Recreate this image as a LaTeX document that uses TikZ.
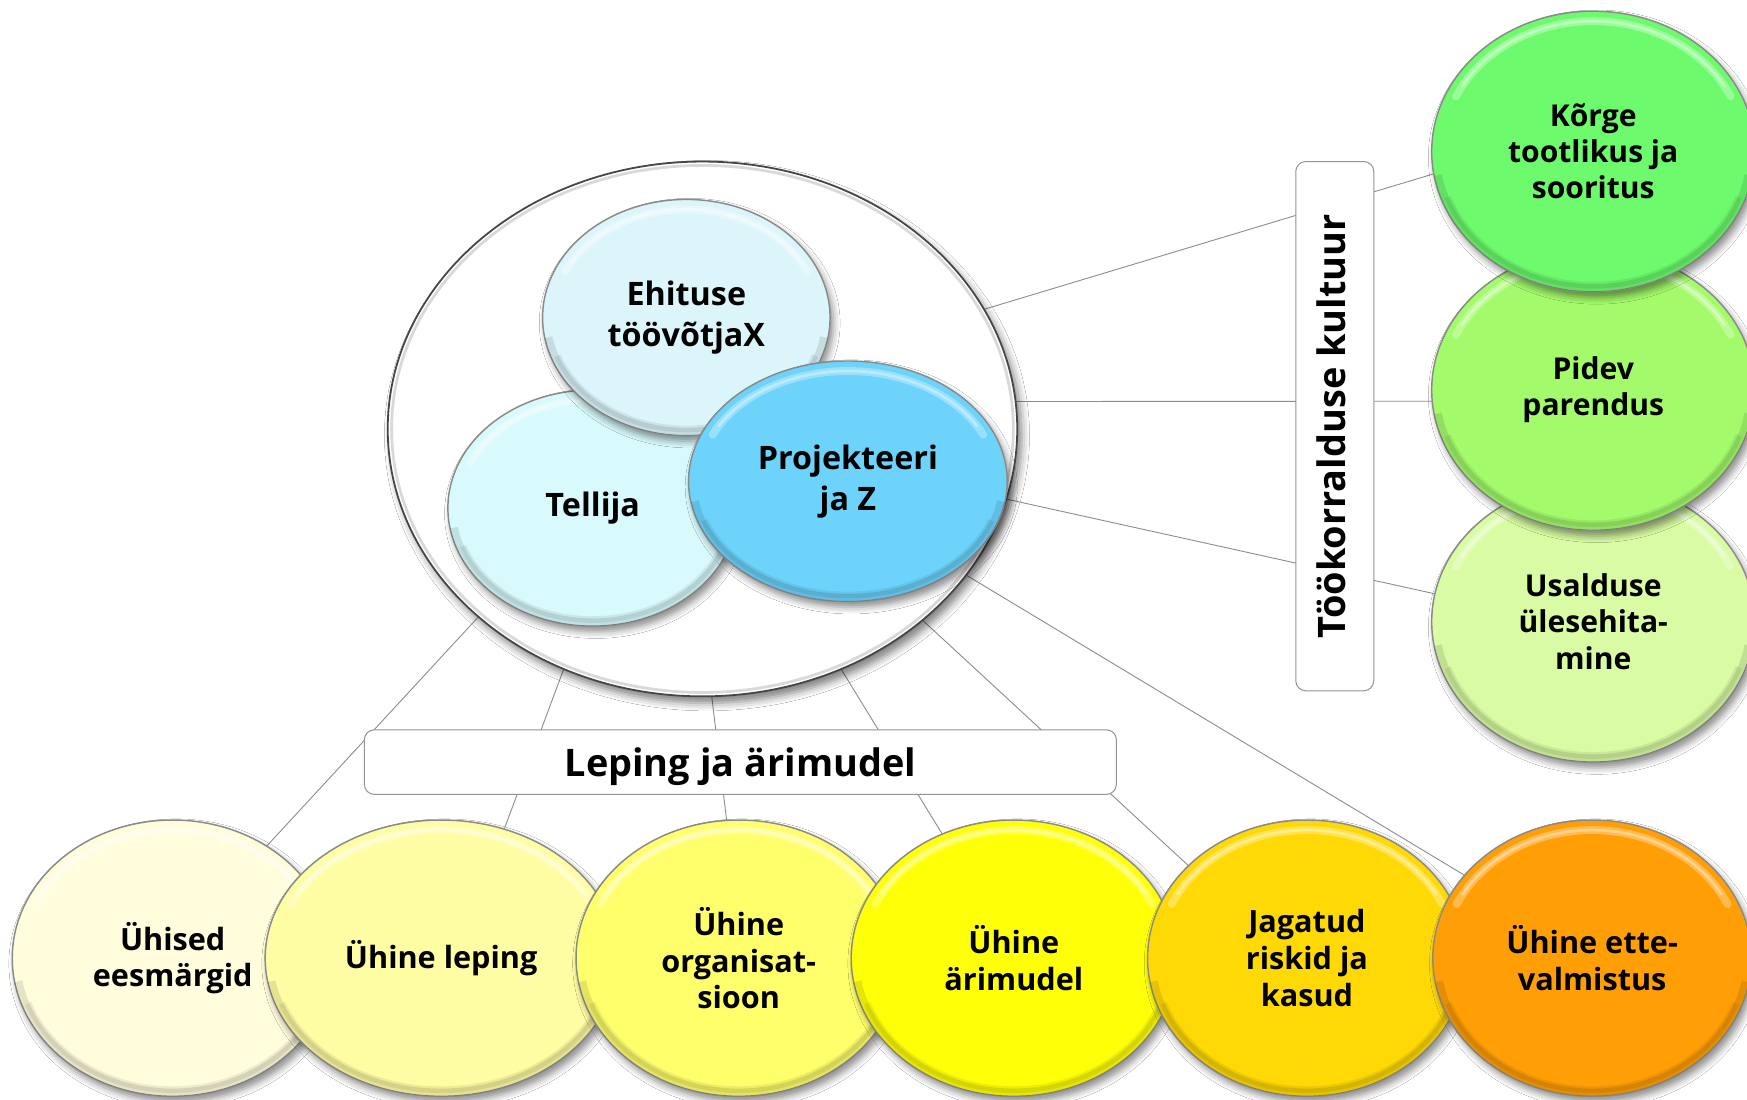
\documentclass[tikz,border=0pt]{standalone}
\usepackage{fontspec}
\setmainfont{Open Sans}
\usetikzlibrary{shapes.geometric,shadows.blur}

\definecolor{ehit}{HTML}{DCF5FB}
\definecolor{tell}{HTML}{D8FAFC}
\definecolor{proj}{HTML}{6DD3FB}
\definecolor{korge}{HTML}{6DFB6D}
\definecolor{pidev}{HTML}{A3FA6B}
\definecolor{usald}{HTML}{D8FBA3}
\definecolor{bA}{HTML}{FFFDDB}
\definecolor{bB}{HTML}{FFFDA3}
\definecolor{bC}{HTML}{FFFE6B}
\definecolor{bD}{HTML}{FFFF08}
\definecolor{bE}{HTML}{FFD905}
\definecolor{bF}{HTML}{FF9F05}
\definecolor{rim}{HTML}{8A8A8A}
\definecolor{linkgray}{HTML}{8C8C8C}

\pgfdeclarelayer{links}
\pgfsetlayers{links,main}

% style, name, x, y, x radius, y radius, fill colour, text
\newcommand\bubble[8]{%
  \node[#1, fill=#7, minimum width={2*#5}, minimum height={2*#6}] (#2) at (#3,#4) {#8};
  \begin{scope}
    \clip (#3,#4) ellipse [x radius=#5, y radius=#6];
    % darker bevel along the lower edge
    \draw[black, opacity=.10, line width=14pt]
      (#3,#4) ++(10:{#5} and {#6}) arc[start angle=10, end angle=170, x radius=#5, y radius=#6];
    \draw[black, opacity=.07, line width=6pt]
      (#3,#4) ++(20:{#5-6} and {#6-6}) arc[start angle=20, end angle=160, x radius=#5-6, y radius=#6-6];
    % soft light rim along the upper edge
    \draw[white, opacity=.30, line width=7pt, line cap=round]
      (#3,#4) ++(205:{#5-9} and {#6-9}) arc[start angle=205, end angle=335, x radius=#5-9, y radius=#6-9];
    \draw[white, opacity=.35, line width=2.5pt, line cap=round]
      (#3,#4) ++(210:{#5-9} and {#6-9}) arc[start angle=210, end angle=330, x radius=#5-9, y radius=#6-9];
  \end{scope}}

\begin{document}
\begin{tikzpicture}[x=1pt,y=-1pt,
  link/.style={draw=linkgray, line width=0.8pt},
  bubble/.style={ellipse, draw=rim, line width=1.3pt, inner sep=0pt, align=center,
    font=\bfseries\fontsize{27.5}{33}\selectfont,
    blur shadow={shadow xshift=3pt, shadow yshift=-5pt, shadow blur radius=6pt, shadow opacity=45}},
  core/.style={bubble, font=\bfseries\fontsize{29}{37}\selectfont},
  side/.style={bubble, font=\bfseries\fontsize{27}{32.5}\selectfont},
  capbox/.style={rectangle, rounded corners=9pt, draw=gray!85, fill=white, line width=0.9pt,
    inner sep=0pt, font=\bfseries\fontsize{34}{40}\selectfont, text height=33pt, text depth=8pt},
  hubstyle/.style={ellipse, draw=gray!55!black, line width=1.6pt, fill=white, inner sep=0pt,
    blur shadow={shadow xshift=4pt, shadow yshift=-6pt, shadow blur radius=7pt, shadow opacity=50}}
]
\useasboundingbox (0,0) rectangle (1568,987);

% central partnership circle
\node[hubstyle, minimum width=565, minimum height=480] (hub) at (630.5,385) {};
\draw[gray!30, line width=2.5pt] (630.5,385) ellipse [x radius=279, y radius=236.5];

% the three parties
\bubble{core}{tellija}{532}{456}{130}{106}{tell}{Tellija}
\bubble{core}{ehitus}{616}{285}{129}{106}{ehit}{Ehituse\\töövõtjaX}
\bubble{core}{projekt}{761}{432}{143}{108}{proj}{Projekteeri\\ja Z}

% right column: work culture
\bubble{side}{usaldus}{1430}{558}{145}{126}{usald}{Usalduse\\ülesehita-\\mine}
\bubble{side}{pidev}{1430}{350}{145}{126}{pidev}{Pidev\\parendus}
\bubble{side}{korge}{1430}{136}{145}{126}{korge}{Kõrge\\tootlikus ja\\sooritus}

% bottom row: contract and business model
\bubble{bubble}{eesm}{155}{860}{144}{124}{bA}{Ühised\\eesmärgid}
\bubble{bubble}{leping}{396}{860}{158}{124}{bB}{Ühine leping}
\bubble{bubble}{org}{663}{860}{146}{124}{bC}{Ühine\\organisat-\\sioon}
\bubble{bubble}{arim}{910}{860}{146}{124}{bD}{Ühine\\ärimudel}
\bubble{bubble}{riskid}{1173}{860}{143}{124}{bE}{Jagatud\\riskid ja\\kasud}
\bubble{bubble}{ette}{1429}{860}{143}{124}{bF}{Ühine ette-\\valmistus}

% category labels
\node[capbox, minimum width=475, minimum height=70, rotate=90, text height=27pt, text depth=8pt] (kultuur) at (1198,382.5) {Töökorralduse kultuur};
\node[capbox, minimum width=675, minimum height=58] (lepbox) at (664.5,684) {Leping ja ärimudel};

% white sheet and connectors, kept underneath the labels and bubbles
\begin{pgfonlayer}{links}
  \fill[white] (0,0) rectangle (1568,987);
  \draw[link] (hub.23.9) -- (korge.188.4);
  \draw[link] (hub.5.9) -- (pidev.184.3);
  \draw[link] (hub.347.3) -- (usaldus.170.4);
  \draw[link] (hub.331.9) -- (ette.147.1);
  \draw[link] (hub.220) -- (eesm.50.5);
  \draw[link] (hub.240.7) -- (leping.64);
  \draw[link] (hub.272.5) -- (org.95);
  \draw[link] (hub.300.5) -- (arim.120.6);
  \draw[link] (hub.319.7) -- (riskid.142);
\end{pgfonlayer}
\end{tikzpicture}
\end{document}
